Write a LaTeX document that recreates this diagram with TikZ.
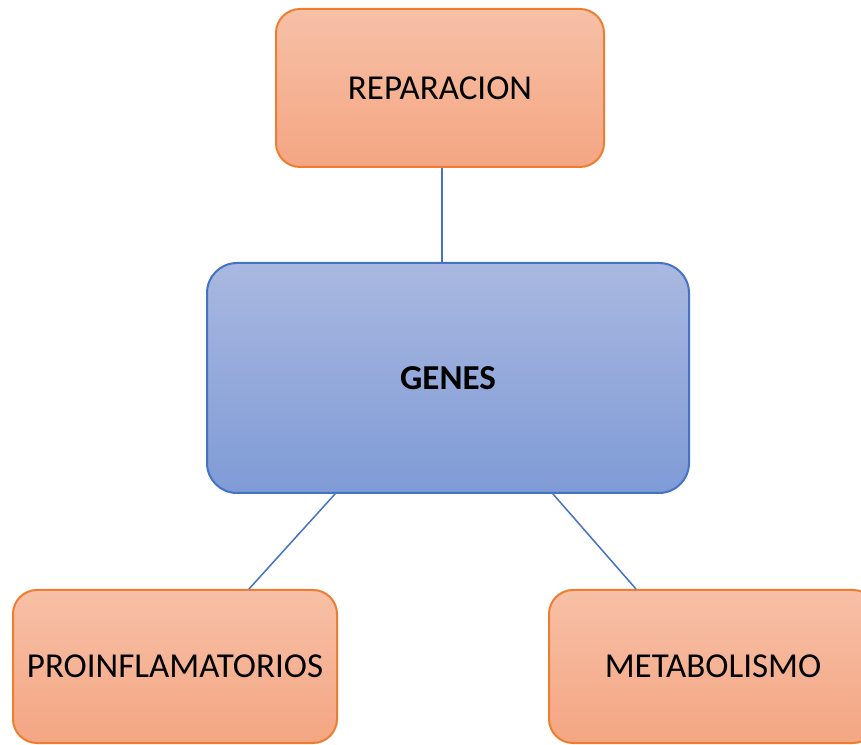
\documentclass[tikz,border=0pt]{standalone}
\usepackage{fontspec}
\newfontfamily\boxfont{Carlito}
\definecolor{orangeline}{HTML}{ED7D31}
\definecolor{orangetop}{HTML}{F7C0A7}
\definecolor{orangebot}{HTML}{F4A682}
\definecolor{blueline}{HTML}{4472C4}
\definecolor{bluetop}{HTML}{A9B8E0}
\definecolor{bluebot}{HTML}{7F9BD6}
\begin{document}
\begin{tikzpicture}[x = 1pt, y = 1pt, line width = 2pt,
                    leaf/.style = {rectangle, rounded corners = 24pt, draw = orangeline,
                                   top color = orangetop, bottom color = orangebot,
                                   font = \boxfont\fontsize{35}{40}\selectfont},
                    root/.style = {rectangle, rounded corners = 30pt, draw = blueline,
                                   top color = bluetop, bottom color = bluebot,
                                   font = \boxfont\bfseries\fontsize{35}{40}\selectfont},
                    link/.style = {draw = blueline, line width = 1.5pt}]
  \useasboundingbox (0, 0) rectangle (861, 744);
  \clip (0, 0) rectangle (861, 744);
  \node [leaf, minimum width = 328pt, minimum height = 158pt] (REP) at (440, 656) {REPARACION};
  \node [root, minimum width = 482pt, minimum height = 230pt] (GEN) at (448, 366) {GENES};
  \node [leaf, minimum width = 324pt, minimum height = 153pt] (PRO) at (175, 77.5) {PROINFLAMATORIOS};
  \node [leaf, minimum width = 328pt, minimum height = 153pt] (MET) at (713, 77.5) {METABOLISMO};
  \draw [link] ([xshift = 2pt]REP.south) -- ([xshift = 2pt]REP.south |- GEN.north);
  \draw [link] ([xshift = -113pt]GEN.south) -- ([xshift = 74pt]PRO.north);
  \draw [link] ([xshift = 105pt]GEN.south) -- ([xshift = -77pt]MET.north);
\end{tikzpicture}
\end{document}
